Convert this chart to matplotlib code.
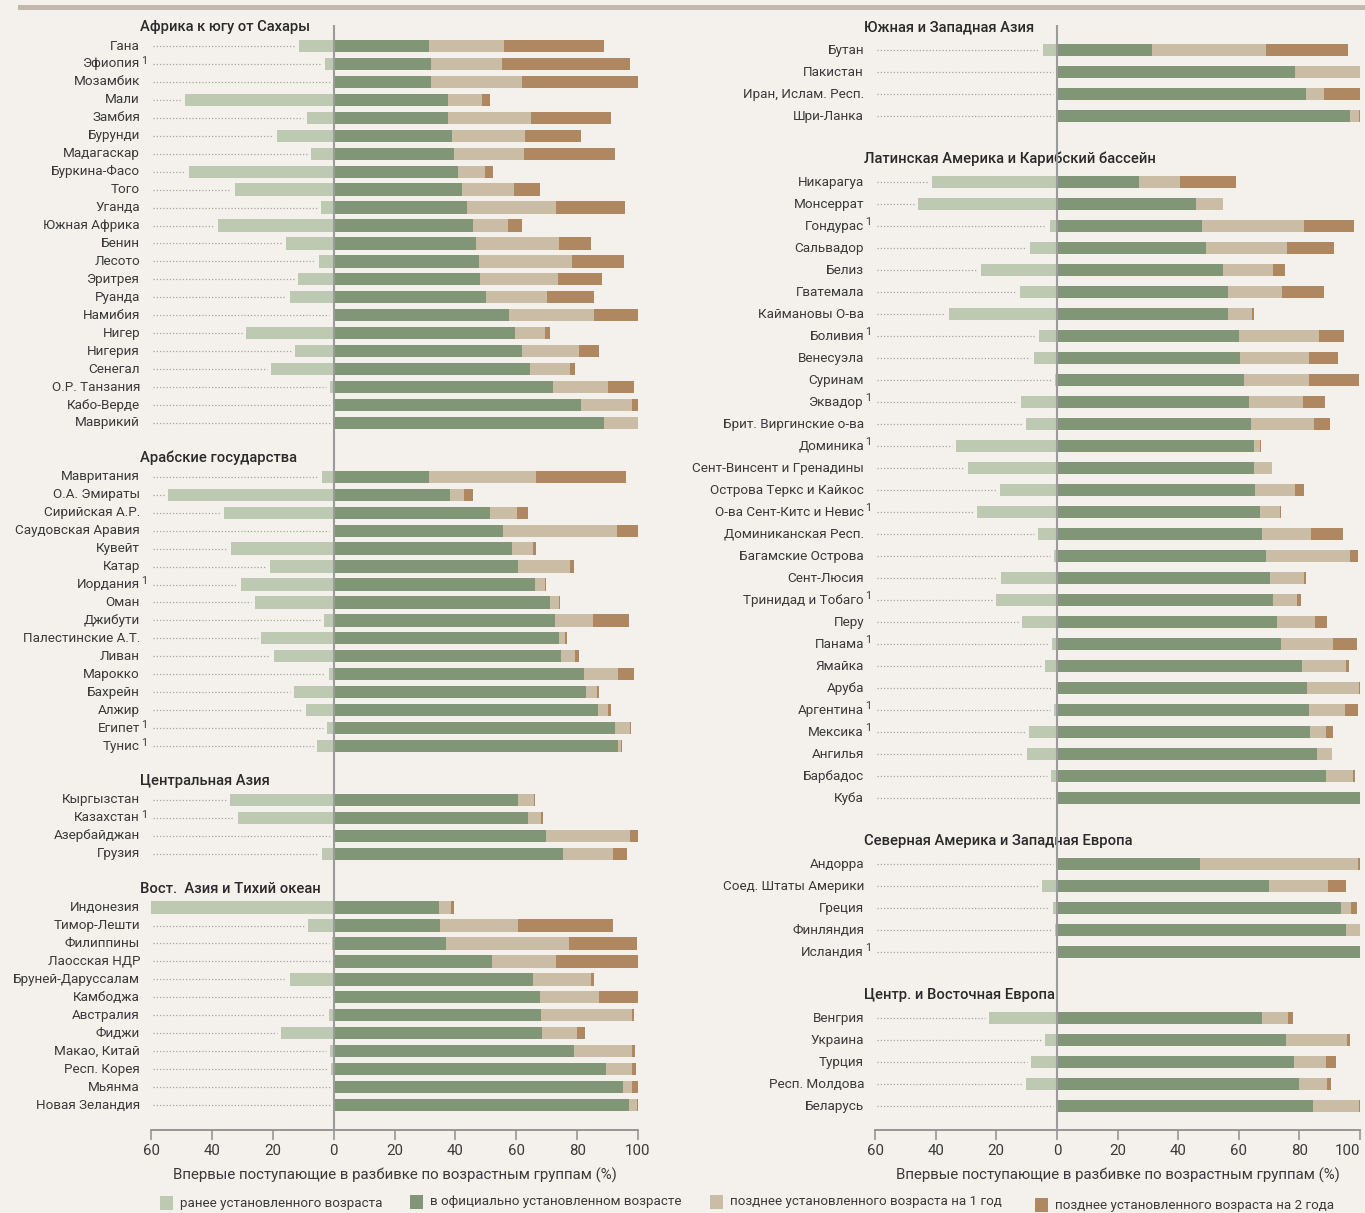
import matplotlib
matplotlib.use("Agg")
import matplotlib.pyplot as plt
from matplotlib.patches import Rectangle

plt.rcParams['font.family'] = ['Roboto', 'DejaVu Sans']

# ---------------- DATA ----------------
# Left panel
africa_names = ["Гана", "Эфиопия", "Мозамбик", "Мали", "Замбия", "Бурунди", "Мадагаскар",
                "Буркина-Фасо", "Того", "Уганда", "Южная Африка", "Бенин", "Лесото", "Эритрея",
                "Руанда", "Намибия", "Нигер", "Нигерия", "Сенегал", "О.Р. Танзания", "Кабо-Верде",
                "Маврикий"]
africa_note = ["Эфиопия"]
africa_early = [11.5, 2.9, 0, 48.8, 8.9, 18.7, 7.5, 47.6, 32.5, 4.1, 38.0, 15.8, 4.8, 11.8,
                14.4, 0.3, 28.9, 12.7, 20.6, 1.2, 0, 0]
africa_official = [31.3, 32.0, 32.0, 37.5, 37.5, 38.9, 39.6, 40.8, 42.2, 43.7, 45.8, 46.7, 47.7,
                   48.0, 50.1, 57.5, 59.6, 61.8, 64.5, 72.1, 81.2, 88.8]
africa_late1 = [24.6, 23.3, 29.8, 11.2, 27.4, 23.9, 22.9, 8.9, 17.0, 29.3, 11.5, 27.3, 30.6,
                25.7, 20.0, 28.0, 9.8, 18.8, 13.1, 17.9, 16.7, 11.2]
africa_late2 = [32.9, 42.1, 38.2, 2.6, 26.2, 18.4, 29.9, 2.6, 8.6, 22.7, 4.5, 10.5, 17.0, 14.4,
                15.4, 14.5, 1.7, 6.5, 1.7, 8.6, 2.1, 0]

arab_names = ["Мавритания", "О.А. Эмираты", "Сирийская А.Р.", "Саудовская Аравия", "Кувейт",
              "Катар", "Иордания", "Оман", "Джибути", "Палестинские А.Т.", "Ливан", "Марокко",
              "Бахрейн", "Алжир", "Египет", "Тунис"]
arab_note = ["Иордания", "Египет", "Тунис"]
arab_early = [3.9, 54.5, 36.1, 0.3, 33.7, 21.0, 30.4, 25.9, 3.2, 23.7, 19.6, 1.5, 13.1, 9.1, 2.2, 5.3]
arab_official = [31.3, 38.2, 51.3, 55.6, 58.5, 60.6, 66.1, 71.1, 72.8, 74.0, 74.7, 82.2, 82.8,
                 86.9, 92.4, 93.4]
arab_late1 = [35.1, 4.5, 8.9, 37.5, 6.9, 17.0, 3.5, 2.9, 12.4, 1.9, 4.6, 11.2, 3.6, 3.1, 5.0, 0.9]
arab_late2 = [29.6, 3.1, 3.6, 6.9, 1.0, 1.4, 0.2, 0.3, 11.8, 0.7, 1.4, 5.2, 0.7, 1.1, 0.2, 0.4]

casia_names = ["Кыргызстан", "Казахстан", "Азербайджан", "Грузия"]
casia_note = ["Казахстан"]
casia_early = [34.2, 31.5, 0, 3.9]
casia_official = [60.6, 63.8, 69.7, 75.4]
casia_late1 = [5.2, 4.2, 27.7, 16.3]
casia_late2 = [0.3, 0.7, 2.6, 4.7]

easia_names = ["Индонезия", "Тимор-Лешти", "Филиппины", "Лаосская НДР", "Бруней-Даруссалам",
               "Камбоджа", "Австралия", "Фиджи", "Макао, Китай", "Респ. Корея", "Мьянма",
               "Новая Зеландия"]
easia_note = []
easia_early = [60.7, 8.4, 0.4, 0, 14.4, 0, 1.5, 17.3, 1.2, 0.8, 0, 0]
easia_official = [34.6, 34.9, 36.9, 52.0, 65.4, 67.8, 68.0, 68.5, 79.0, 89.5, 95.0, 97.0]
easia_late1 = [3.9, 25.7, 40.4, 21.0, 19.1, 19.3, 29.9, 11.4, 18.9, 8.4, 2.9, 2.7]
easia_late2 = [1.1, 31.1, 22.3, 27.0, 1.0, 12.9, 0.7, 2.7, 1.1, 1.4, 2.1, 0.3]

# Right panel
swasia_names = ["Бутан", "Пакистан", "Иран, Ислам. Респ.", "Шри-Ланка"]
swasia_note = []
swasia_early = [4.6, 0, 0, 0]
swasia_official = [31.3, 78.5, 82.3, 96.7]
swasia_late1 = [37.6, 21.5, 5.7, 2.9]
swasia_late2 = [27.1, 0, 12.0, 0.4]

latam_names = ["Никарагуа", "Монсеррат", "Гондурас", "Сальвадор", "Белиз", "Гватемала",
               "Каймановы О-ва", "Боливия", "Венесуэла", "Суринам", "Эквадор",
               "Брит. Виргинские о-ва", "Доминика", "Сент-Винсент и Гренадины",
               "Острова Теркс и Кайкос", "О-ва Сент-Китс и Невис", "Доминиканская Респ.",
               "Багамские Острова", "Сент-Люсия", "Тринидад и Тобаго", "Перу", "Панама",
               "Ямайка", "Аруба", "Аргентина", "Мексика", "Ангилья", "Барбадос", "Куба"]
latam_note = ["Гондурас", "Боливия", "Эквадор", "Доминика", "О-ва Сент-Китс и Невис",
              "Тринидад и Тобаго", "Панама", "Аргентина", "Мексика"]
latam_early = [41.2, 45.8, 2.3, 8.9, 25.1, 12.2, 35.6, 5.9, 7.6, 0.7, 11.8, 10.2, 33.3, 29.4,
               18.9, 26.4, 6.3, 1.0, 18.4, 20.2, 11.5, 1.6, 3.9, 0.3, 1.0, 9.2, 9.9, 2.0, 0]
latam_official = [27.1, 45.8, 47.8, 49.1, 54.8, 56.3, 56.3, 60.1, 60.4, 61.7, 63.3, 64.0, 65.0,
                  65.0, 65.3, 67.0, 67.6, 68.9, 70.3, 71.2, 72.6, 73.9, 80.8, 82.4, 83.1, 83.4,
                  85.7, 88.8, 100]
latam_late1 = [13.5, 9.0, 33.6, 26.7, 16.4, 17.9, 8.0, 26.4, 22.7, 21.4, 17.8, 20.7, 2.0, 5.9,
               13.2, 6.6, 16.1, 27.8, 11.1, 7.9, 12.6, 17.2, 14.7, 17.3, 11.9, 5.4, 4.9, 8.9, 0]
latam_late2 = [18.5, 0, 16.6, 15.6, 4.0, 13.8, 0.7, 8.2, 9.6, 16.5, 7.2, 5.4, 0.3, 0, 2.9, 0.3,
               10.7, 2.6, 0.7, 1.4, 3.8, 7.9, 0.8, 0.3, 4.3, 2.3, 0, 0.6, 0]

nawe_names = ["Андорра", "Соед. Штаты Америки", "Греция", "Финляндия", "Исландия"]
nawe_note = ["Исландия"]
nawe_early = [0, 4.9, 1.3, 0.7, 0]
nawe_official = [47.1, 69.9, 93.7, 95.4, 100]
nawe_late1 = [52.2, 19.4, 3.3, 4.6, 0]
nawe_late2 = [0.7, 6.1, 2.0, 0, 0]

cee_names = ["Венгрия", "Украина", "Турция", "Респ. Молдова", "Беларусь"]
cee_note = []
cee_early = [22.5, 3.9, 8.6, 10.2, 0]
cee_official = [67.6, 75.5, 78.1, 79.8, 84.4]
cee_late1 = [8.6, 20.3, 10.7, 9.2, 15.3]
cee_late2 = [1.6, 0.9, 3.3, 1.3, 0.3]

group_titles_left = ["Африка к югу от Сахары", "Арабские государства", "Центральная Азия",
                     "Вост.  Азия и Тихий океан"]
group_titles_right = ["Южная и Западная Азия", "Латинская Америка и Карибский бассейн",
                      "Северная Америка и Западная Европа", "Центр. и Восточная Европа"]

x_ticks = [-60, -40, -20, 0, 20, 40, 60, 80, 100]
x_tick_labels = ["60", "40", "20", "0", "20", "40", "60", "80", "100"]
x_label = "Впервые поступающие в разбивке по возрастным группам (%)"
legend_labels = ["ранее установленного возраста", "в официально установленном возрасте",
                 "позднее установленного возраста на 1 год", "позднее установленного возраста на 2 года"]

# ---------------- STYLE ----------------
BG = "#f4f1ed"
C_EARLY = "#bdc9b1"
C_OFF = "#809677"
C_L1 = "#cbbca6"
C_L2 = "#af8761"
TXT = "#3a3a3a"
GRID = "#9b9b9b"
W, H = 1365, 1213
LABEL_FS = 9.7

fig = plt.figure(figsize=(W / 100, H / 100), dpi=100, facecolor=BG)

left_groups = [
    (group_titles_left[0], africa_names, africa_note, africa_early, africa_official, africa_late1, africa_late2),
    (group_titles_left[1], arab_names, arab_note, arab_early, arab_official, arab_late1, arab_late2),
    (group_titles_left[2], casia_names, casia_note, casia_early, casia_official, casia_late1, casia_late2),
    (group_titles_left[3], easia_names, easia_note, easia_early, easia_official, easia_late1, easia_late2),
]
right_groups = [
    (group_titles_right[0], swasia_names, swasia_note, swasia_early, swasia_official, swasia_late1, swasia_late2),
    (group_titles_right[1], latam_names, latam_note, latam_early, latam_official, latam_late1, latam_late2),
    (group_titles_right[2], nawe_names, nawe_note, nawe_early, nawe_official, nawe_late1, nawe_late2),
    (group_titles_right[3], cee_names, cee_note, cee_early, cee_official, cee_late1, cee_late2),
]


def draw_panel(ax, groups, bar_h, ylim):
    ax.set_facecolor(BG)
    idx = 0
    for gi, (title, names, notes, early, off, l1, l2) in enumerate(groups):
        if gi > 0:
            idx += 2
        ax.text(-63.7, idx - 1.05, title, ha="left", va="center", fontsize=10.6,
                color="#2a2a2a", fontweight="medium", clip_on=False)
        ys = list(range(idx, idx + len(names)))
        for y, nm, e in zip(ys, names, early):
            ax.text(-63.6, y, nm, ha="right", va="center", fontsize=LABEL_FS, color=TXT,
                    clip_on=False)
            if nm in notes:
                ax.text(-63.2, y - 0.18, "1", ha="left", va="center", fontsize=7.8,
                        color=TXT, clip_on=False)
            end = -e - 1.2
            if end > -59:
                ax.plot([-59.5, end], [y, y], color="#a5a5a5", lw=0.9,
                        linestyle=(0, (1, 1.6)), zorder=1)
        ax.barh(ys, [-v for v in early], height=bar_h, color=C_EARLY, zorder=2)
        ax.barh(ys, off, height=bar_h, color=C_OFF, zorder=2)
        ax.barh(ys, l1, left=off, height=bar_h, color=C_L1, zorder=2)
        ax.barh(ys, l2, left=[a + b for a, b in zip(off, l1)], height=bar_h, color=C_L2, zorder=2)
        idx += len(names)
    ax.axvline(0, color=GRID, lw=1.5, zorder=3)
    ax.set_xlim(-60, 100)
    ax.set_ylim(*ylim)
    ax.set_yticks([])
    for s in ["top", "right", "left"]:
        ax.spines[s].set_visible(False)
    ax.spines["bottom"].set_color("#8e8e8e")
    ax.spines["bottom"].set_linewidth(1.3)
    ax.set_xticks(x_ticks)
    ax.set_xticklabels(x_tick_labels)
    ax.tick_params(axis="x", direction="out", length=7, width=1.1, color="#8e8e8e",
                   labelsize=10.8, labelcolor=TXT, pad=3)
    ax.set_xlabel(x_label, fontsize=10.8, color=TXT, labelpad=7)


axL = fig.add_axes([151 / W, (H - 1130) / H, 487 / W, 1105 / H])
axR = fig.add_axes([875 / W, (H - 1130) / H, 485 / W, 1105 / H])
draw_panel(axL, left_groups, 0.68, (60.39, -1.17))
draw_panel(axR, right_groups, 0.56, (49.09, -1.14))

# keep the rightmost "100" inside the canvas
axR.get_xticklabels()[-1].set_horizontalalignment("right")

# top band
fig.add_artist(Rectangle((18 / W, 1 - 10 / H), (W - 18) / W, 5 / H, transform=fig.transFigure,
                         facecolor="#c1b9af", edgecolor="none"))

# legend
leg_items = [(160, 1203, C_EARLY, legend_labels[0]),
             (410, 1202, C_OFF, legend_labels[1]),
             (710, 1202, C_L1, legend_labels[2]),
             (1035, 1205, C_L2, legend_labels[3])]
for x, y, c, lab in leg_items:
    fig.add_artist(Rectangle((x / W, 1 - (y + 7) / H), 13 / W, 14 / H, transform=fig.transFigure,
                             facecolor=c, edgecolor="none"))
    fig.text((x + 20) / W, 1 - y / H, lab, ha="left", va="center", fontsize=9.6, color=TXT)

fig.savefig("out.png", dpi=100, facecolor=BG)
